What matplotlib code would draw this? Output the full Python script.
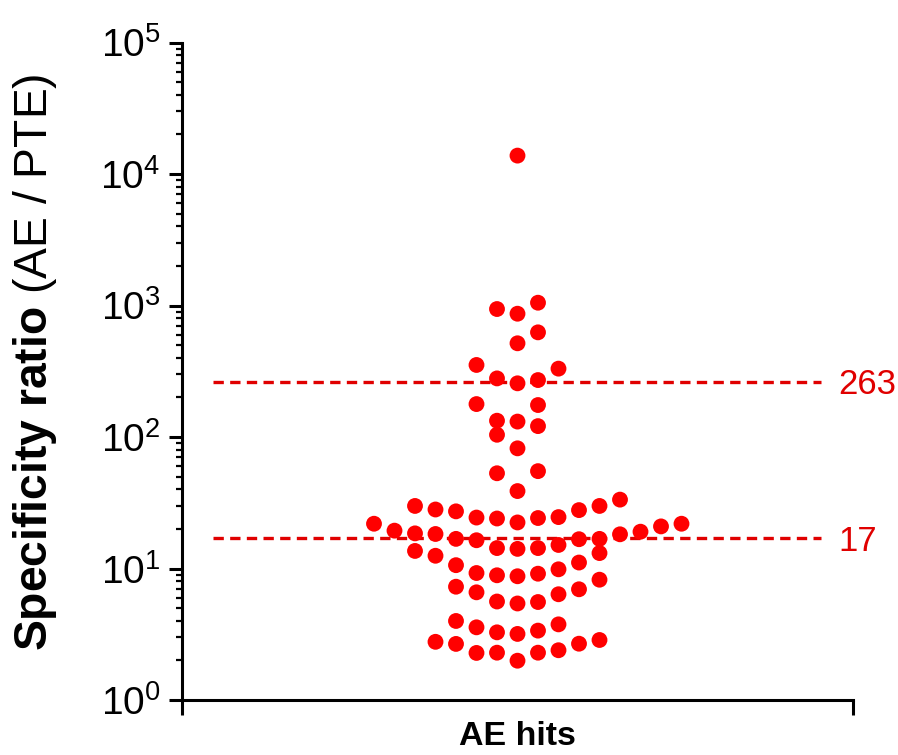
import matplotlib
matplotlib.use("Agg")
import matplotlib.pyplot as plt
from matplotlib.ticker import LogLocator, NullFormatter, FixedLocator

plt.rcParams['font.family'] = ['Liberation Sans', 'DejaVu Sans']
plt.rcParams['mathtext.fontset'] = 'custom'
plt.rcParams['mathtext.rm'] = 'Liberation Sans'
plt.rcParams['mathtext.bf'] = 'Liberation Sans:bold'
plt.rcParams['mathtext.it'] = 'Liberation Sans:italic'

# ---- data ----
category = "AE hits"
ratio_values = [13800, 940, 866, 1050, 625, 516, 353, 331, 279, 256, 271, 178, 175,
                133, 131, 121, 104, 82, 53, 55, 38.8,
                29.9, 28.1, 27.2, 24.4, 24.0, 22.4, 24.2, 24.6, 27.8, 29.9, 33.4,
                21.9, 19.4, 18.5, 18.3, 16.8, 16.4, 14.3, 14.1, 14.3, 15.1, 16.7, 16.8,
                18.2, 19.05, 20.9, 21.9,
                13.6, 12.5, 13.1,
                10.6, 11.1,
                9.24, 8.88, 8.73, 9.13, 9.86, 8.22,
                7.27, 6.59, 5.61, 5.42, 5.56, 6.37, 6.95,
                3.99, 3.57, 3.27, 3.18, 3.37, 3.76,
                2.77, 2.67, 2.28, 2.29, 1.99, 2.29, 2.39, 2.68, 2.86]
swarm_col = [0, -1, 0, 1, 1, 0, -2, 2, -1, 0, 1, -2, 1,
             -1, 0, 1, -1, 0, -1, 1, 0,
             -5, -4, -3, -2, -1, 0, 1, 2, 3, 4, 5,
             -7, -6, -5, -4, -3, -2, -1, 0, 1, 2, 3, 4,
             5, 6, 7, 8,
             -5, -4, 4,
             -3, 3,
             -2, -1, 0, 1, 2, 4,
             -3, -2, -1, 0, 1, 2, 3,
             -3, -2, -1, 0, 1, 2,
             -4, -3, -2, -1, 0, 1, 2, 3, 4]
ref_lines = [263, 17]
ref_labels = ["263", "17"]

W, H = 898, 755
fig = plt.figure(figsize=(W / 100, H / 100), dpi=100)
ax_l, ax_r, ax_t, ax_b = 182, 853, 42.5, 700
ax = fig.add_axes([ax_l / W, (H - ax_b) / H, (ax_r - ax_l) / W, (ax_b - ax_t) / H])

half = (ax_r - ax_l) / 2 / 20.5
ax.set_xlim(-half, half)
ax.set_yscale('log')
ax.set_ylim(1, 1e5)

ax.scatter(swarm_col, ratio_values, s=130, color='#ff0000', edgecolors='none',
           zorder=3, clip_on=False)

red = '#e00000'
for val, lab in zip(ref_lines, ref_labels):
    ax.axhline(val, xmin=0.046, xmax=0.952, color=red, lw=2.4,
               dashes=(3.1, 1.9), zorder=2)
    ax.annotate(lab, xy=(0.978, val), xycoords=('axes fraction', 'data'),
                xytext=(0, -9.0), textcoords='offset points', va='baseline',
                ha='left', color=red, fontsize=25, annotation_clip=False)

for s in ['top', 'right']:
    ax.spines[s].set_visible(False)
for s in ['left', 'bottom']:
    ax.spines[s].set_linewidth(2.2)
    ax.spines[s].set_capstyle('projecting')

ax.yaxis.set_major_locator(LogLocator(base=10, numticks=10))
ax.yaxis.set_minor_locator(LogLocator(base=10, subs=range(2, 10), numticks=20))
ax.yaxis.set_minor_formatter(NullFormatter())
ax.tick_params(axis='y', which='major', length=9.5, width=2.2, labelsize=28,
               pad=6, direction='out')
ax.tick_params(axis='y', which='minor', length=4.5, width=1.6, direction='out')

ax.xaxis.set_major_locator(FixedLocator([-half, half]))
ax.set_xticklabels(['', ''])
ax.tick_params(axis='x', which='major', length=10.5, width=2.2, direction='out')

fig.text(517.5 / W, (H - 745) / H, category, ha='center', va='baseline',
         fontsize=24.5, fontweight='bold')

fig.text(47 / W, (H - 362.5) / H, r"$\mathbf{Specificity\ ratio}$ (AE / PTE)",
         rotation=90, rotation_mode='anchor', ha='center', va='baseline',
         fontsize=33.3)

fig.savefig('out.png', dpi=100)
